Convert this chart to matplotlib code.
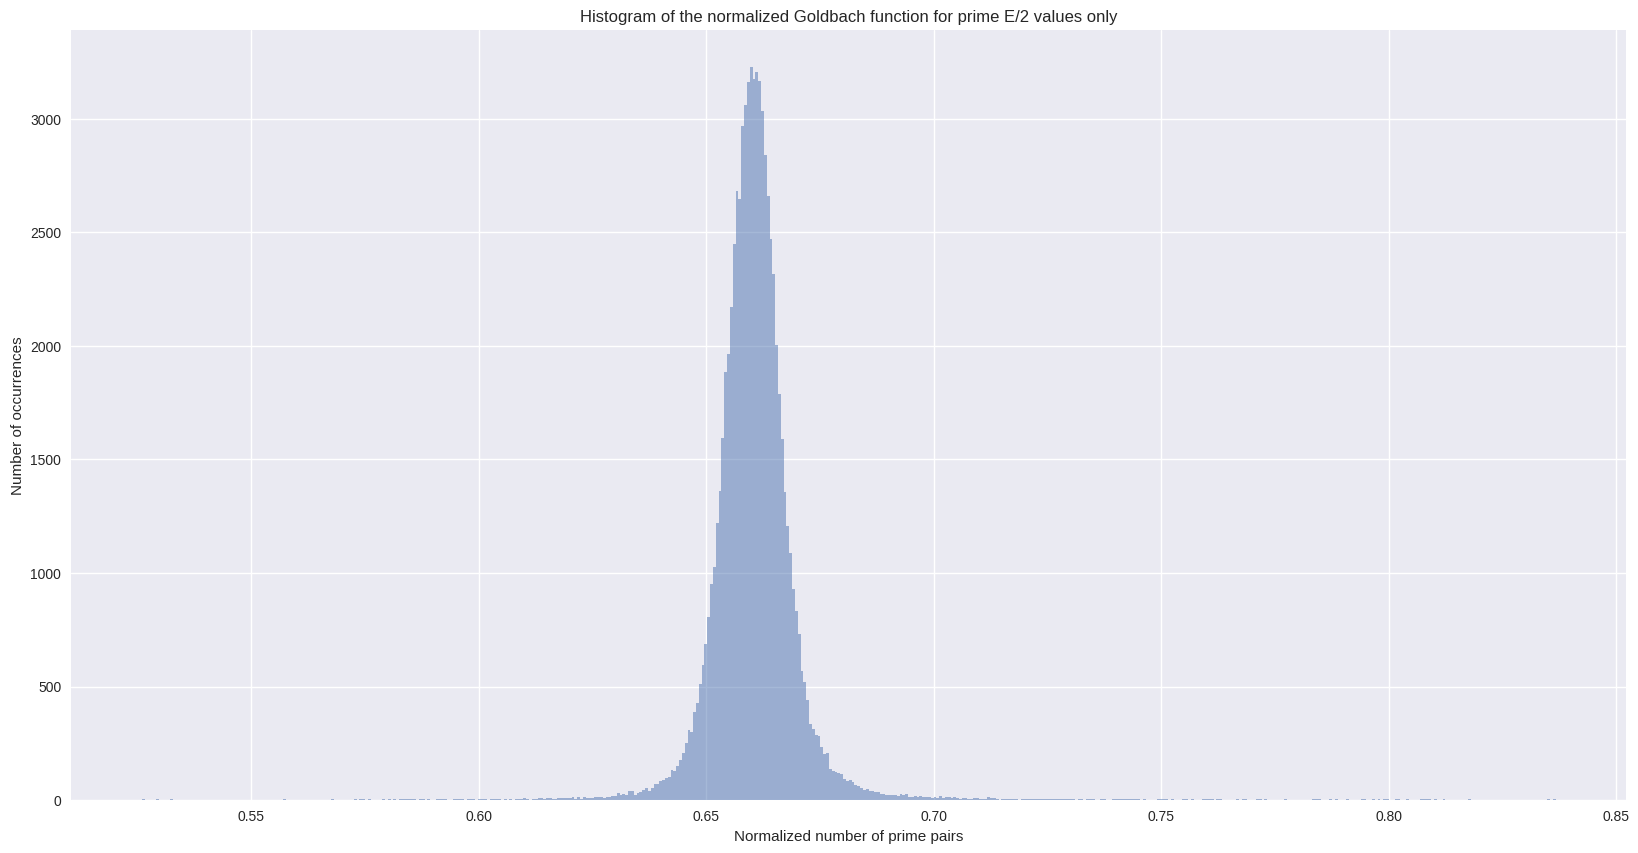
import numpy as np
import matplotlib
matplotlib.use("Agg")
import matplotlib.pyplot as plt

# === Data: histogram counts (500 equal-width bins) ===
X_MIN = 0.5259
X_MAX = 0.8367
N_BINS = 500

counts = [
    4, 0, 0, 0, 0, 4, 0, 0, 0, 0, 4, 0, 0, 0, 0, 0, 0, 0, 0, 0,
    0, 0, 0, 0, 0, 0, 0, 0, 0, 0, 0, 0, 0, 0, 0, 0, 0, 0, 0, 0,
    0, 0, 0, 0, 0, 0, 0, 0, 0, 0, 4, 0, 0, 0, 0, 0, 0, 0, 0, 0,
    0, 0, 0, 0, 0, 0, 0, 4, 0, 0, 0, 0, 0, 0, 0, 4, 0, 4, 4, 0,
    4, 0, 0, 0, 0, 4, 0, 4, 0, 4, 0, 4, 4, 4, 4, 4, 4, 0, 4, 4,
    0, 4, 0, 0, 4, 4, 4, 4, 0, 0, 4, 4, 4, 4, 0, 4, 4, 4, 0, 4,
    4, 4, 0, 4, 4, 4, 4, 0, 4, 0, 4, 0, 4, 4, 4, 8, 4, 0, 4, 4,
    8, 8, 4, 8, 8, 4, 5, 8, 8, 8, 8, 8, 14, 5, 14, 5, 14, 10, 10, 10,
    14, 14, 14, 10, 14, 14, 18, 18, 31, 22, 27, 22, 40, 40, 22, 31, 36, 45, 54, 40,
    54, 71, 71, 84, 89, 98, 102, 133, 129, 151, 177, 207, 251, 308, 299, 387, 427, 511, 594, 686,
    806, 951, 1026, 1219, 1360, 1594, 1883, 1962, 2173, 2450, 2683, 2644, 2969, 3062, 3163, 3229, 3176, 3207, 3167, 3035,
    2841, 2660, 2472, 2318, 2002, 1786, 1590, 1355, 1206, 1087, 929, 833, 731, 568, 520, 441, 335, 314, 287, 282,
    233, 203, 207, 138, 129, 124, 120, 115, 93, 84, 89, 80, 67, 62, 54, 45, 49, 40, 40, 36,
    36, 27, 27, 22, 22, 22, 22, 18, 27, 22, 27, 13, 13, 18, 13, 18, 13, 13, 13, 9,
    13, 9, 18, 9, 13, 13, 9, 13, 9, 5, 9, 9, 5, 5, 9, 9, 5, 5, 5, 13,
    9, 9, 5, 0, 4, 4, 4, 4, 4, 4, 0, 4, 4, 4, 4, 4, 4, 4, 4, 4,
    4, 4, 4, 4, 4, 4, 4, 4, 4, 4, 0, 4, 4, 0, 4, 4, 4, 0, 0, 4,
    4, 0, 0, 4, 4, 4, 4, 4, 4, 4, 4, 4, 4, 0, 4, 0, 0, 0, 0, 4,
    4, 4, 4, 0, 4, 0, 0, 0, 4, 4, 0, 4, 0, 0, 0, 4, 4, 4, 4, 0,
    4, 4, 0, 0, 0, 0, 0, 4, 0, 4, 4, 0, 0, 0, 4, 4, 0, 4, 0, 0,
    0, 0, 0, 0, 4, 0, 0, 0, 0, 0, 0, 0, 0, 0, 4, 4, 4, 0, 0, 0,
    4, 0, 4, 0, 0, 0, 4, 0, 0, 0, 0, 4, 4, 0, 0, 4, 0, 4, 0, 4,
    4, 0, 0, 4, 4, 0, 0, 4, 0, 0, 0, 0, 4, 4, 4, 4, 0, 4, 0, 0,
    4, 0, 0, 0, 0, 0, 0, 0, 0, 4, 0, 0, 0, 0, 0, 0, 0, 0, 0, 0,
    0, 0, 0, 0, 0, 0, 0, 0, 0, 0, 0, 0, 0, 0, 0, 0, 0, 4, 0, 3,
]

title = "Histogram of the normalized Goldbach function for prime E/2 values only"
xlabel = "Normalized number of prime pairs"
ylabel = "Number of occurrences"

# === Plot ===
plt.style.use("seaborn-v0_8")

edges = np.linspace(X_MIN, X_MAX, N_BINS + 1)
centers = 0.5 * (edges[:-1] + edges[1:])

fig, ax = plt.subplots(figsize=(16.384, 8.534), dpi=100)
fig.subplots_adjust(left=71 / 1638, right=1626 / 1638,
                    top=1 - 30.3 / 853, bottom=1 - 800.2 / 853)

ax.hist(centers, bins=edges, weights=counts, alpha=0.5)

ax.set_title(title)
ax.set_xlabel(xlabel)
ax.set_ylabel(ylabel)

fig.savefig("out.png", dpi=100)
